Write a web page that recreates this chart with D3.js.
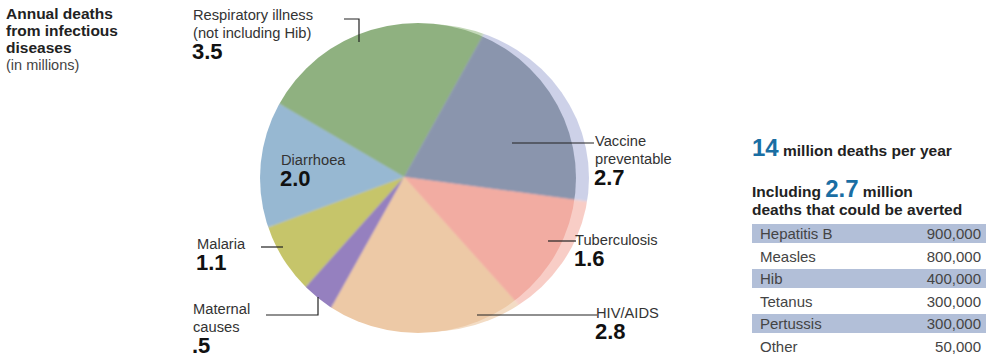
<!DOCTYPE html>
<html><head><meta charset="utf-8">
<script src="https://cdn.jsdelivr.net/npm/d3@7"></script>
<style>
html,body{margin:0;padding:0;background:#fff;}
svg{display:block;font-family:"Liberation Sans",Arial,Helvetica,sans-serif;}
</style></head>
<body>
<svg id="chart" width="986" height="357"></svg>
<script>
// ---- data ----
const causes = ["Respiratory illness", "Vaccine preventable", "Tuberculosis", "HIV/AIDS", "Maternal causes", "Malaria", "Diarrhoea"];
const deaths = [3.5, 2.7, 1.6, 2.8, 0.5, 1.1, 2.0];
const labelLines = [["Respiratory illness", "(not including Hib)"], ["Vaccine", "preventable"], ["Tuberculosis"], ["HIV/AIDS"], ["Maternal", "causes"], ["Malaria"], ["Diarrhoea"]];
const vaccines = ["Hepatitis B", "Measles", "Hib", "Tetanus", "Pertussis", "Other"];
const vaccineDeaths = [900000, 800000, 400000, 300000, 300000, 50000];
const totalDeaths = 14;
const avertable = 2.7;

// ---- styles / layout ----
const faceColors = ["#8fb180", "#8a95ad", "#f2aca2", "#edc9a6", "#9580bf", "#c6c56a", "#97b8d2"];
const rimColors  = ["#c3d8b8", "#cdd1e8", "#f8cdc6", "#f3dcc4", "#b9a9d8", "#dcdb9c", "#c4d8e8"];
const apex = [404, 177];
const face = {cx: 418, cy: 178, rx: 158, ry: 155};
const rim  = {cx: 427, cy: 178, rx: 162, ry: 154};
const blue = "#1a6ea3";
const txt = "#333";

const svg = d3.select("#chart");
const defs = svg.append("defs");
defs.append("clipPath").attr("id", "clipFace").append("ellipse")
  .attr("cx", face.cx).attr("cy", face.cy).attr("rx", face.rx).attr("ry", face.ry);
defs.append("clipPath").attr("id", "clipRim").append("ellipse")
  .attr("cx", rim.cx).attr("cy", rim.cy).attr("rx", rim.rx).attr("ry", rim.ry);
const blur = defs.append("filter").attr("id", "soft").attr("x", "-5%").attr("y", "-5%").attr("width", "110%").attr("height", "110%");
blur.append("feGaussianBlur").attr("stdDeviation", 1.2);

const pie = d3.pie().sort(null).value(d => d)
  .startAngle(-1.04).endAngle(-1.04 + 2 * Math.PI);
const arcs = pie(deaths);
const arc = d3.arc().innerRadius(0).outerRadius(260);

// rim layer
svg.append("g").attr("clip-path", "url(#clipRim)")
  .append("g").attr("transform", `translate(${apex})`).attr("filter", "url(#soft)")
  .selectAll("path").data(arcs).join("path")
  .attr("d", arc).attr("fill", (d, i) => rimColors[i]);
// face layer
svg.append("g").attr("clip-path", "url(#clipFace)")
  .append("g").attr("transform", `translate(${apex})`).attr("filter", "url(#soft)")
  .selectAll("path").data(arcs).join("path")
  .attr("d", arc).attr("fill", (d, i) => faceColors[i]);

// ---- title ----
const title = svg.append("text").attr("x", 6).attr("font-size", 15.5).attr("fill", "#222");
[["Annual deaths", 19, "bold"], ["from infectious", 36, "bold"], ["diseases", 53, "bold"], ["(in millions)", 70, "normal"]]
  .forEach(([t, y, w]) => title.append("tspan").attr("x", 6).attr("y", y).attr("font-weight", w)
    .attr("font-size", w === "bold" ? 15.5 : 14.5)
    .attr("fill", w === "bold" ? "#222" : "#444").text(t));

// ---- slice labels ----
const fmtVal = v => d3.format(".1f")(v).replace(/^0\./, ".");
// label anchor positions and leader paths per slice (layout)
const labelPos = [
  {x: 193, y: 20, leader: "M344,19H359V42"},
  {x: 595, y: 146, leader: "M512,143H594"},
  {x: 575, y: 245, leader: "M548,241H576"},
  {x: 596, y: 318, leader: "M477,315H597"},
  {x: 193, y: 314, leader: "M266,315H318V297"},
  {x: 197, y: 249, leader: "M261,247H283"},
  {x: 281, y: 165, leader: null}
];
const lg = svg.append("g");
causes.forEach((c, i) => {
  const p = labelPos[i];
  if (p.leader) lg.append("path").attr("d", p.leader).attr("fill", "none").attr("stroke", "#222").attr("stroke-width", 1.2);
  const lines = labelLines[i];
  lines.forEach((ln, j) => {
    lg.append("text").attr("x", p.x).attr("y", p.y + j * 17.5).attr("font-size", 14.7).attr("fill", txt).text(ln);
  });
  lg.append("text").attr("x", p.x - 1).attr("y", p.y + (lines.length - 1) * 17.5 + 21)
    .attr("font-size", 22).attr("font-weight", "bold").attr("fill", "#111").text(fmtVal(deaths[i]));
});

// ---- right panel ----
const panelX = 752;
const h1 = svg.append("text").attr("x", panelX).attr("y", 156).attr("font-weight", "bold").attr("fill", "#222");
h1.append("tspan").attr("font-size", 24).attr("fill", blue).text(totalDeaths);
h1.append("tspan").attr("font-size", 15.5).text(" million deaths per year");

const h2 = svg.append("text").attr("x", panelX).attr("y", 197).attr("font-weight", "bold").attr("fill", "#222");
h2.append("tspan").attr("font-size", 15.5).text("Including ");
h2.append("tspan").attr("font-size", 24).attr("fill", blue).text(avertable);
h2.append("tspan").attr("font-size", 15.5).text(" million");
svg.append("text").attr("x", panelX).attr("y", 215).attr("font-weight", "bold").attr("font-size", 15.5)
  .attr("fill", "#222").text("deaths that could be averted");

const rowY = d3.scaleBand().domain(vaccines).range([224, 359]).paddingInner(0);
const rows = svg.append("g").selectAll("g").data(vaccines).join("g")
  .attr("transform", d => `translate(0,${rowY(d)})`);
rows.filter((d, i) => i % 2 === 0).append("rect")
  .attr("x", panelX).attr("y", 0).attr("width", 986 - panelX).attr("height", rowY.bandwidth() - 3.5)
  .attr("fill", "#b2bfd8");
rows.append("text").attr("x", panelX + 8).attr("y", 15).attr("font-size", 15).attr("fill", "#444").text(d => d);
rows.append("text").attr("x", 981).attr("y", 15).attr("font-size", 15).attr("fill", "#444")
  .attr("text-anchor", "end").text((d, i) => d3.format(",")(vaccineDeaths[i]));
</script>
</body></html>
